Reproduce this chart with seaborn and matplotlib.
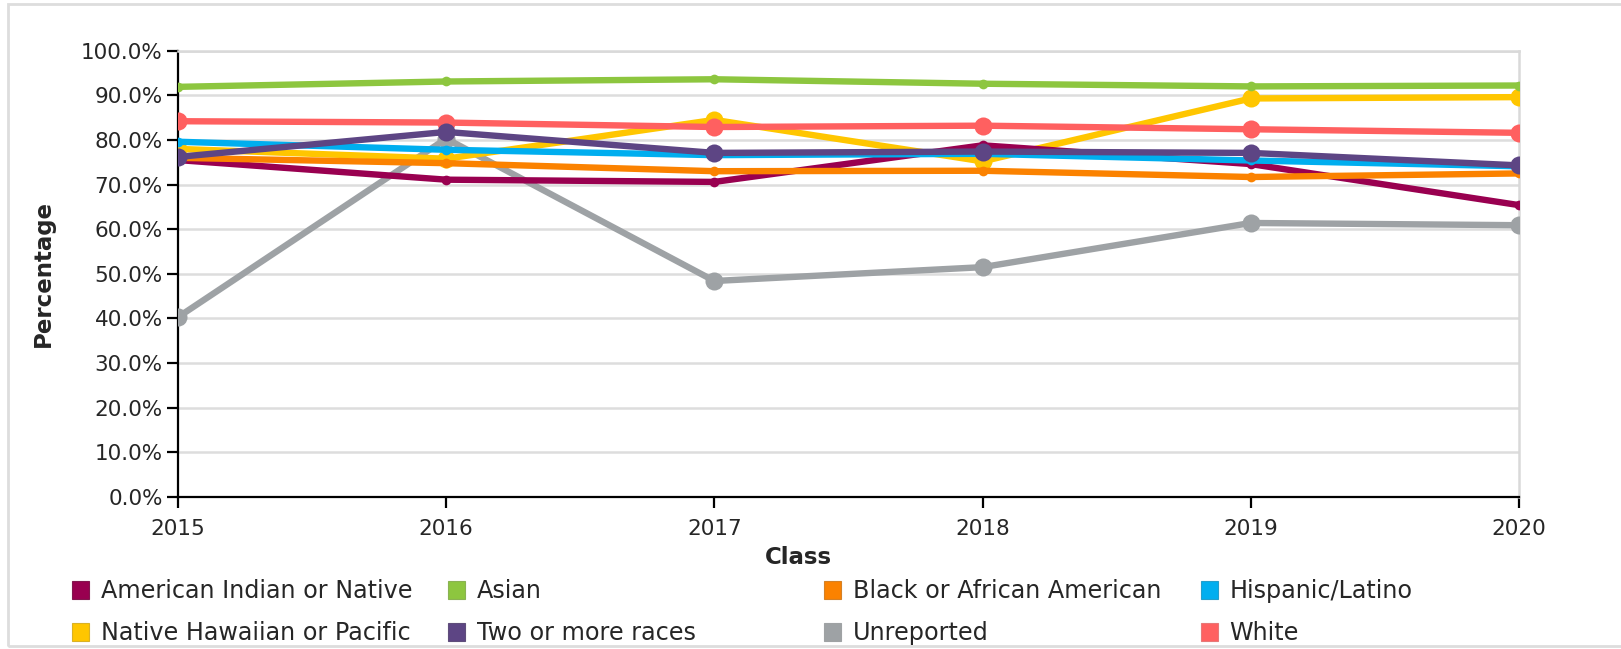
import matplotlib.pyplot as plt
import pandas as pd
import seaborn as sns
from matplotlib.patches import Patch, Rectangle
from matplotlib.ticker import FuncFormatter

# --- data ---
years = [2015, 2016, 2017, 2018, 2019, 2020]
american_indian = [75.5, 71.1, 70.6, 78.8, 74.6, 65.4]
asian = [91.9, 93.1, 93.6, 92.6, 92.0, 92.2]
black = [76.0, 74.8, 73.0, 73.1, 71.7, 72.5]
hispanic = [79.6, 77.8, 76.6, 76.9, 75.4, 74.1]
native_hawaiian = [78.0, 75.8, 84.5, 75.2, 89.3, 89.6]
two_or_more = [76.2, 81.8, 77.1, 77.4, 77.1, 74.3]
unreported = [40.3, 80.3, 48.4, 51.5, 61.4, 60.9]
white = [84.2, 83.9, 82.9, 83.2, 82.4, 81.6]

series = {
    "American Indian or Native": american_indian,
    "Asian": asian,
    "Black or African American": black,
    "Hispanic/Latino": hispanic,
    "Native Hawaiian or Pacific": native_hawaiian,
    "Two or more races": two_or_more,
    "Unreported": unreported,
    "White": white,
}
colors = {
    "American Indian or Native": "#990050",
    "Asian": "#8DC63F",
    "Black or African American": "#FB8200",
    "Hispanic/Latino": "#00AEEF",
    "Native Hawaiian or Pacific": "#FFC600",
    "Two or more races": "#5D4584",
    "Unreported": "#9EA2A5",
    "White": "#FF6060",
}
big_markers = {"Native Hawaiian or Pacific", "Two or more races", "Unreported", "White"}

df = pd.DataFrame(
    [(name, y, v) for name, vals in series.items() for y, v in zip(years, vals)],
    columns=["group", "Class", "Percentage"],
)

sns.set_style("white")
plt.rcParams["font.family"] = ["DejaVu Sans"]

fig = plt.figure(figsize=(16.21, 6.49), dpi=100)
ax = fig.add_axes([178 / 1621, 1 - 497 / 649, (1519 - 178) / 1621, (497 - 50.7) / 649])

# outer frame
fig.patches.append(Rectangle((8 / 1621, 3 / 649), 1.0, 1 - 7 / 649, transform=fig.transFigure,
                             fill=False, edgecolor="#dddddd", linewidth=2, zorder=0))

draw_order = ["Unreported", "Native Hawaiian or Pacific", "Asian", "White", "American Indian or Native",
              "Black or African American", "Hispanic/Latino", "Two or more races"]
for name in draw_order:
    sub = df[df["group"] == name]
    sns.lineplot(data=sub, x="Class", y="Percentage", ax=ax, color=colors[name],
                 linewidth=4.6, marker="o", markersize=13 if name in big_markers else 7,
                 markeredgewidth=0, legend=False, zorder=3)

ax.set_xlim(2015, 2020)
ax.set_ylim(0, 100)
ax.set_yticks(range(0, 101, 10))
ax.yaxis.set_major_formatter(FuncFormatter(lambda v, _: f"{v:.1f}%"))
ax.set_xticks(years)
ax.grid(axis="y", color="#dddddd", linewidth=1.8, zorder=0)
ax.grid(axis="x", visible=False)
for side in ["top", "right"]:
    ax.spines[side].set_color("#d9d9d9")
    ax.spines[side].set_linewidth(1.8)
for side in ["left", "bottom"]:
    ax.spines[side].set_color("black")
    ax.spines[side].set_linewidth(1.6)
ax.spines["bottom"].set_zorder(4)
ax.tick_params(axis="both", which="major", labelsize=15.5, length=8, width=1.6,
               direction="out", color="black", left=True, bottom=True, pad=3)
ax.tick_params(axis="x", pad=8)
ax.set_xlabel("Class", fontsize=16.5, fontweight="bold")
ax.set_ylabel("Percentage", fontsize=16.5, fontweight="bold")
ax.xaxis.set_label_coords((798 - 178) / 1341, (497 - 557) / 446.3)
ax.xaxis.label.set_va("center")
ax.yaxis.set_label_coords((43 - 178) / 1341, 0.5)
ax.yaxis.label.set_va("center")

# legend: four columns at fixed positions
names = list(series.keys())
col_x = [72, 448, 824, 1201]
for i, x in enumerate(col_x):
    pair = [names[i], names[i + 4]]
    handles = [Patch(facecolor=colors[n], edgecolor=sns.desaturate(colors[n], 0.7), linewidth=0.8)
               for n in pair]
    fig.legend(handles, pair, loc="upper left", bbox_to_anchor=(x / 1621, 1 - 579 / 649),
               frameon=False, fontsize=17.2, handlelength=0.72, handleheight=0.8,
               handletextpad=0.48, labelspacing=0.76, borderpad=0, borderaxespad=0)

fig.savefig("out.png", dpi=100, facecolor="white")
